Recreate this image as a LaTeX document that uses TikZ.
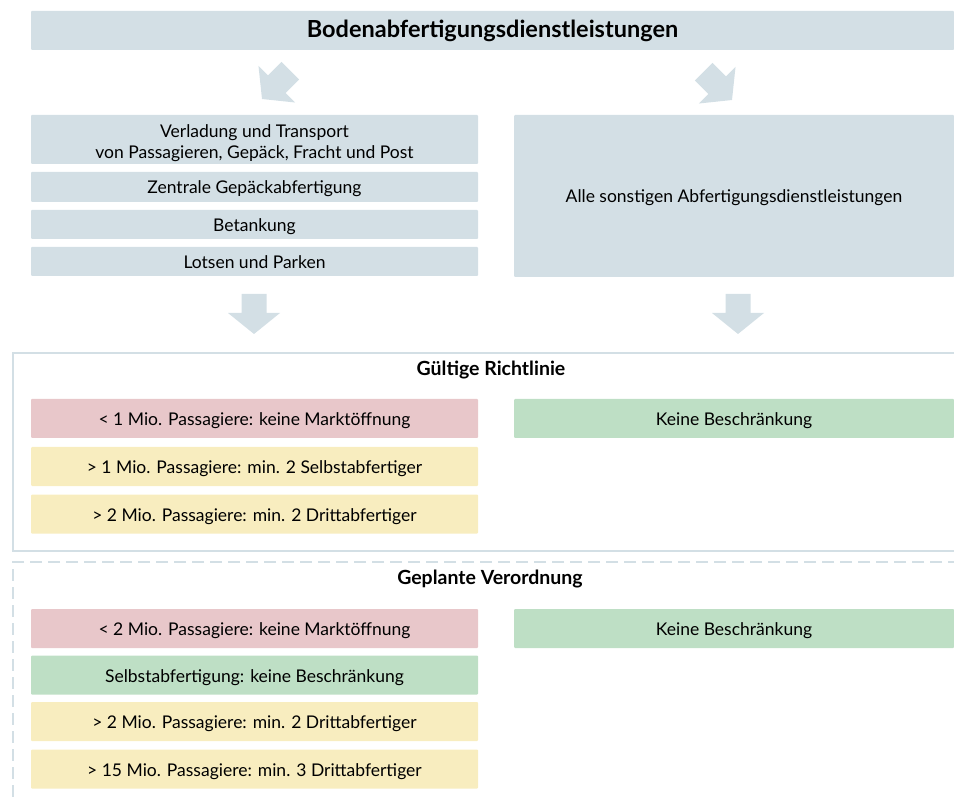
\documentclass[tikz,border=0pt]{standalone}
\usepackage{fontspec}
\setmainfont{Lato}

\definecolor{slate}{HTML}{D3DFE5}
\definecolor{rosebox}{HTML}{E8C7CA}
\definecolor{greenbox}{HTML}{BEDFC5}
\definecolor{yellowbox}{HTML}{F8EDBF}

\tikzset{
  cell/.style={fill=#1, rounded corners=1pt, inner sep=0pt, align=center,
    font=\fontsize{17.5}{21}\selectfont, text=black},
  oneline/.style={text height=17.5pt, text depth=3.5pt},
  leftcell/.style={cell=#1, oneline, minimum width=447pt, minimum height=39pt},
  rightcell/.style={cell=#1, oneline, minimum width=440pt, minimum height=39pt},
  heading/.style={font=\fontsize{19.5}{23}\selectfont\bfseries, inner sep=0pt},
  framesolid/.style={draw=slate, line width=2pt},
  framedashed/.style={draw=slate, line width=2pt, dash pattern=on 12pt off 6pt},
  arrowfill/.style={fill=slate},
}

% block arrow, tip at (#1,#2), pointing in direction #3 (canvas degrees)
\newcommand\blockarrow[3]{%
  \fill[arrowfill, shift={(#1,#2)}, rotate=#3]
    (0,0) -- (-21,26) -- (-21,12.5) -- (-40,12.5) -- (-40,-12.5)
    -- (-21,-12.5) -- (-21,-26) -- cycle;}

\begin{document}
\begin{tikzpicture}[x=1pt, y=-1pt]
\useasboundingbox (0,0) rectangle (954,802);

% title bar
\node[cell=slate, minimum width=923pt, minimum height=39pt,
  font=\fontsize{23.5}{27}\selectfont\bfseries] (title) at (492.5,30.5)
  {Bodenabfertigungsdienstleistungen};

% arrows from the title
\blockarrow{262}{99}{-135}
\blockarrow{732}{100}{-45}

% service groups
\node[cell=slate, text height=41.5pt, text depth=3.5pt,
  minimum width=447pt, minimum height=49pt] (verladung) at (254.5,139.5)
  {Verladung und Transport\\von Passagieren, Gepäck, Fracht und Post};
\node[cell=slate, oneline, minimum width=447pt, minimum height=30pt] (gepaeck) at (254.5,187)
  {Zentrale Gepäckabfertigung};
\node[cell=slate, oneline, minimum width=447pt, minimum height=29pt] (betankung) at (254.5,224.5)
  {Betankung};
\node[cell=slate, oneline, minimum width=447pt, minimum height=29pt] (lotsen) at (254.5,261.5)
  {Lotsen und Parken};
\node[cell=slate, oneline, minimum width=440pt, minimum height=162pt] (sonstige) at (734,196)
  {Alle sonstigen Abfertigungsdienstleistungen};

% arrows down to the rules
\blockarrow{254}{334}{-90}
\blockarrow{738}{334}{-90}

% current directive
\draw[framesolid] (960,353) -- (13,353) -- (13,551) -- (960,551);
\node[heading] (richtlinie) at (491,370) {Gültige Richtlinie};
\node[leftcell=rosebox] (r1) at (254.5,418.5) {< 1 Mio. Passagiere: keine Marktöffnung};
\node[leftcell=yellowbox] (r2) at (254.5,466.5) {> 1 Mio. Passagiere: min. 2 Selbstabfertiger};
\node[leftcell=yellowbox] (r3) at (254.5,514) {> 2 Mio. Passagiere: min. 2 Drittabfertiger};
\node[rightcell=greenbox] (r4) at (734,418.5) {Keine Beschränkung};

% planned regulation
\draw[framedashed] (960,562) -- (13,562) -- (13,810);
\node[heading] (verordnung) at (490,579) {Geplante Verordnung};
\node[leftcell=rosebox] (v1) at (254.5,628.5) {< 2 Mio. Passagiere: keine Marktöffnung};
\node[leftcell=greenbox] (v2) at (254.5,675) {Selbstabfertigung: keine Beschränkung};
\node[leftcell=yellowbox] (v3) at (254.5,721.5) {> 2 Mio. Passagiere: min. 2 Drittabfertiger};
\node[leftcell=yellowbox] (v4) at (254.5,769) {> 15 Mio. Passagiere: min. 3 Drittabfertiger};
\node[rightcell=greenbox] (v5) at (734,628.5) {Keine Beschränkung};
\end{tikzpicture}
\end{document}
